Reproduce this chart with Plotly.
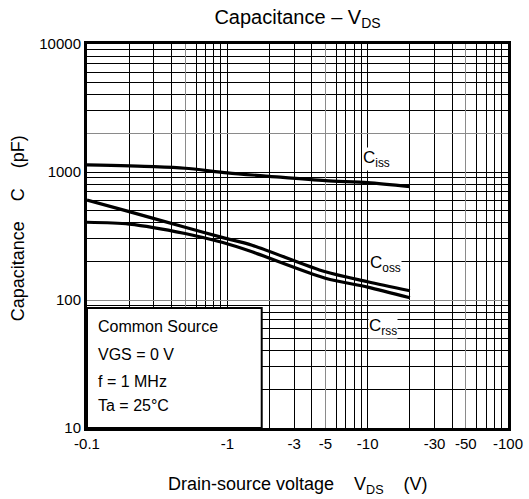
import plotly.graph_objects as go

# Data (V_DS magnitude in V, capacitance in pF)
vds_ciss = [0.1, 0.3, 0.5, 1.0, 2.0, 5.0, 10.0, 20.0]
ciss = [1135, 1100, 1070, 985, 925, 855, 825, 768]

vds_coss = [0.1, 0.2, 0.5, 0.93, 1.5, 5.0, 10.0, 20.0]
coss = [604, 490, 370, 307, 268, 166, 139, 118]

vds_crss = [0.1, 0.2, 0.5, 0.93, 1.5, 5.0, 10.0, 20.0]
crss = [405, 392, 331, 281, 238, 148, 126, 104]

x_tickvals = [0.1, 1, 3, 5, 10, 30, 50, 100]
x_ticktext = ["-0.1", "-1", "-3", "-5", "-10", "-30", "-50", "-100"]
y_tickvals = [10, 100, 1000, 10000]
y_ticktext = ["10", "100", "1000", "10000"]

# grid lines: black ones, plus a few grey ones as in the reference
x_gray = [0.5, 5, 50]
y_gray = [100, 2000]
x_black = [m * d for d in (0.1, 1, 10) for m in range(1, 11) if m * d not in x_gray]
y_black = [m * d for d in (10, 100, 1000) for m in range(1, 11) if m * d not in y_gray]

FONT = "Liberation Sans, Arial, sans-serif"
NB = "\u00a0"

fig = go.Figure()
for xs, ys in ((vds_ciss, ciss), (vds_coss, coss), (vds_crss, crss)):
    fig.add_trace(go.Scatter(
        x=xs, y=ys, mode="lines",
        line=dict(color="black", width=3.2, shape="spline", smoothing=0.8),
        showlegend=False, hoverinfo="skip",
    ))
# invisible trace binding the overlay axes that carry the grey grid lines
fig.add_trace(go.Scatter(x=vds_ciss, y=ciss, xaxis="x2", yaxis="y2", mode="lines",
                         line=dict(color="rgba(0,0,0,0)", width=0),
                         showlegend=False, hoverinfo="skip"))

fig.update_layout(
    template="none",
    width=529, height=499,
    margin=dict(l=87, r=21, t=44, b=71, autoexpand=False),
    paper_bgcolor="white", plot_bgcolor="white",
    font=dict(family=FONT, color="black", size=15),
    title=dict(text="Capacitance – V<sub>DS</sub>", x=297.5 / 529, xanchor="center",
               y=1 - 17 / 499, yanchor="middle", yref="container", xref="container",
               font=dict(size=20, family=FONT, color="black")),
    xaxis=dict(
        type="log", range=[-1, 2], automargin=False,
        tickvals=x_tickvals, ticktext=x_ticktext, ticks="",
        showgrid=False,
        minor=dict(tickvals=x_black, showgrid=True, gridcolor="black", gridwidth=1, ticks=""),
        showline=True, linecolor="black", linewidth=3, mirror=True,
        zeroline=False, tickfont=dict(size=15, family=FONT, color="black"),
    ),
    yaxis=dict(
        type="log", range=[1, 4], automargin=False,
        tickvals=y_tickvals, ticktext=y_ticktext, ticks="",
        showgrid=False,
        minor=dict(tickvals=y_black, showgrid=True, gridcolor="black", gridwidth=1, ticks=""),
        showline=True, linecolor="black", linewidth=3, mirror=True,
        zeroline=False, tickfont=dict(size=15, family=FONT, color="black"),
    ),
    xaxis2=dict(type="log", range=[-1, 2], overlaying="x", anchor="y2", automargin=False,
                tickvals=x_gray, showticklabels=False, ticks="", showline=False,
                showgrid=True, gridcolor="#8a8a8a", gridwidth=1, zeroline=False),
    yaxis2=dict(type="log", range=[1, 4], overlaying="y", anchor="x2", automargin=False,
                tickvals=y_gray, showticklabels=False, ticks="", showline=False,
                showgrid=True, gridcolor="#8a8a8a", gridwidth=1, zeroline=False),
)

# Conditions box (white, covering grid)
fig.add_shape(type="rect", xref="paper", yref="paper",
              x0=0, x1=0.415, y0=0, y1=0.3125,
              fillcolor="white", line=dict(color="black", width=2), layer="above")

box_lines = ["Common Source", "VGS = 0 V", "f = 1 MHz", "Ta = 25°C"]
box_y_px = [326, 354, 381, 405]
for txt, ypx in zip(box_lines, box_y_px):
    fig.add_annotation(text=txt, xref="paper", yref="paper",
                       x=(96 - 87) / 421, y=(428 - ypx) / 384,
                       xanchor="left", yanchor="middle", showarrow=False,
                       font=dict(size=16, family=FONT))

# Curve labels (annotation positions on log axes are log10 values)
labels = [("C<sub>iss</sub>", 0.96, 3.10), ("C<sub>oss</sub>", 1.01, 2.28),
          ("C<sub>rss</sub>", 1.00, 1.79)]
for txt, lx, ly in labels:
    fig.add_annotation(text=txt, x=lx, y=ly, xref="x", yref="y",
                       xanchor="left", yanchor="middle", showarrow=False,
                       bgcolor="white", borderpad=0,
                       font=dict(size=17, family=FONT))

# Axis titles
fig.add_annotation(text="Drain-source voltage" + NB * 4 + "V<sub>DS</sub>" + NB * 4 + "(V)",
                   xref="paper", yref="paper", x=0.5, y=0, yshift=-57,
                   xanchor="center", yanchor="middle", showarrow=False,
                   font=dict(size=18, family=FONT))
fig.add_annotation(text="Capacitance" + NB * 4 + "C" + NB * 4 + "(pF)",
                   xref="paper", yref="paper", x=0, xshift=-69, y=0.52,
                   xanchor="center", yanchor="middle", textangle=-90, showarrow=False,
                   font=dict(size=18, family=FONT))

fig.write_html("out.html", config={"displayModeBar": False},
               post_script="document.body.style.margin='0px';")
